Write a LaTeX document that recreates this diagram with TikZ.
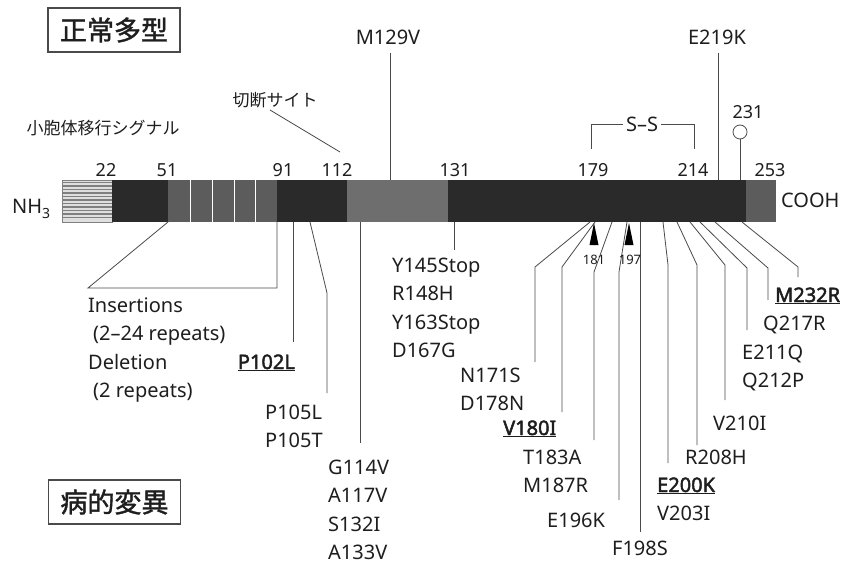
\documentclass[tikz,border=0pt]{standalone}
\usepackage{fontspec}
\setmainfont{Noto Sans}
\newfontfamily\jp{Noto Sans CJK JP}
\newfontfamily\jpb{Noto Sans CJK JP}[FakeBold=1.5]
\newfontfamily\bfam{Noto Sans}[FakeBold=2.2]
\definecolor{dk}{HTML}{2A2A2A}
\definecolor{md}{HTML}{5C5C5C}
\definecolor{lgr}{HTML}{6E6E6E}
\definecolor{ln}{HTML}{4A4A4A}
\definecolor{tx}{HTML}{1E1E1E}
\tikzset{
  conn/.style={draw=ln, line width=0.8pt},
  lab/.style={font=\fontsize{20}{24}\selectfont, inner sep=0pt, anchor=base west, text=tx},
  labb/.style={lab, font=\bfam\fontsize{20}{24}\selectfont},
  posn/.style={font=\fontsize{18}{22}\selectfont, inner sep=0pt, anchor=base, text=tx},
  small/.style={font=\fontsize{13}{15}\selectfont, inner sep=0pt, anchor=center, text=tx},
  jbox/.style={draw=ln, line width=1.5pt, font=\jpb\fontsize{27}{30}\selectfont, minimum width=132pt, minimum height=44pt, inner sep=0pt, text=tx},
  jtxt/.style={font=\jp\fontsize{17}{20}\selectfont, inner sep=0pt, text=tx},
  tri/.style={fill=black},
}
\newcommand{\ul}[1]{\underline{#1}}
\begin{document}
\begin{tikzpicture}[x=1pt,y=-1pt]
\useasboundingbox (0,0) rectangle (845,564);
\fill[white] (0,0) rectangle (845,564);
% ---- bar ----
\fill[gray!25] (62,180) rectangle (112,222);
\foreach \y in {182.5,186,...,220} \draw[gray, line width=1.1pt] (62,\y) -- (112,\y);
\draw[gray, line width=0.8pt] (62,180) rectangle (112,222);
\fill[dk] (112,180) rectangle (168,222);
\fill[md] (168,180) rectangle (277,222);
\foreach \x in {190,212,234,255} \draw[white, line width=1pt] (\x,180) -- (\x,222);
\fill[dk] (277,180) rectangle (347,222);
\fill[lgr] (347,180) rectangle (448,222);
\fill[dk] (448,180) rectangle (746,222);
\fill[md] (746,180) rectangle (776,222);
% ---- boxes and titles ----
\node[jbox] (normal) at (114,30) {正常多型};
\node[jbox] (patho) at (114.5,502) {病的変異};
\node[jtxt] (erSig) at (103,128) {小胞体移行シグナル};
\node[jtxt] (cut) at (275,100) {切断サイト};
\coordinate (cutEnd) at (340,152);
\draw[conn] (270,110) -- (cutEnd);
\node[lab] (nh) at (12,213) {NH\raisebox{-5pt}{\fontsize{14}{16}\selectfont 3}};
\node[lab] (cooh) at (781,207) {COOH};
% ---- position numbers ----
\node[posn] (p22) at (106,176) {22};
\node[posn] (p51) at (167,176) {51};
\node[posn] (p91) at (283,176) {91};
\node[posn] (p112) at (337,176) {112};
\node[posn] (p131) at (455,176) {131};
\node[posn] (p179) at (593,176) {179};
\node[posn] (p214) at (693,176) {214};
\node[posn] (p253) at (770,176) {253};
\node[posn] (p231) at (748,119) {231};
% ---- S-S bracket ----
\node[font=\fontsize{20}{24}\selectfont, inner sep=3pt, text=tx] (ss) at (642,124) {S–S};
\coordinate (ssL) at (591,149);
\coordinate (ssR) at (694,149);
\draw[conn] (ssL) |- (ss.west);
\draw[conn] (ssR) |- (ss.east);
% ---- GPI circle 231 ----
\node[circle, draw=ln, line width=0.8pt, fill=white, minimum size=14pt, inner sep=0pt] (gpi) at (740,132) {};
\coordinate (gpiB) at (740,180);
\draw[conn] (gpi.south) -- (gpiB);
% ---- polymorphisms ----
\node[font=\fontsize{20}{24}\selectfont, inner sep=0pt, anchor=base, text=tx] (m129v) at (388,45) {M129V};
\node[font=\fontsize{20}{24}\selectfont, inner sep=0pt, anchor=base, text=tx] (e219k) at (717,45) {E219K};
\coordinate (bM129) at (390,180);
\coordinate (bE219) at (718,180);
\draw[conn] (bM129) -- (390,53);
\draw[conn] (bE219) -- (718,53);
% ---- insertion / deletion ----
\coordinate (b51) at (168,222);
\coordinate (b91) at (277,222);
\draw[conn] (b51) -- (88,288) -- (277,288) -- (b91);
\node[lab] (ins) at (88,312) {Insertions};
\node[lab] (ins2) at (93,340) {(2–24 repeats)};
\node[lab] (del) at (88,369) {Deletion};
\node[lab] (del2) at (93,397) {(2 repeats)};
% ---- mutations ----
\node[labb, anchor=base east] (p102l) at (295,369) {\ul{P102L}};
\draw[conn] (293,222) -- (293,342);
\node[lab] (p105l) at (265,419) {P105L};
\node[lab] (p105t) at (265,447) {P105T};
\draw[conn] (310,222) -- (327,293) -- (327,393);
\node[lab] (g114v) at (328,474) {G114V};
\node[lab] (a117v) at (328,502) {A117V};
\node[lab] (s132i) at (328,531) {S132I};
\node[lab] (a133v) at (328,559) {A133V};
\draw[conn] (360,222) -- (360,443);
\node[lab] (y145) at (392,272) {Y145Stop};
\node[lab] (r148h) at (392,300) {R148H};
\node[lab] (y163) at (392,329) {Y163Stop};
\node[lab] (d167g) at (392,357) {D167G};
\draw[conn] (454,222) -- (454,250);
\node[lab] (n171s) at (460,382) {N171S};
\node[lab] (d178n) at (460,410) {D178N};
\draw[conn] (590,222) -- (535,267) -- (535,362);
\node[labb] (v180i) at (503,435) {\ul{V180I}};
\draw[conn] (595,222) -- (562,267) -- (562,412);
\node[lab] (t183a) at (523,464) {T183A};
\node[lab] (m187r) at (523,492) {M187R};
\draw[conn] (612,222) -- (594,272) -- (594,440);
\node[lab] (e196k) at (547,527) {E196K};
\draw[conn] (627,222) -- (619,272) -- (619,500);
\node[lab, anchor=base] (f198s) at (640,555) {F198S};
\draw[conn] (640,222) -- (640,532);
\node[labb] (e200k) at (657,492) {\ul{E200K}};
\node[lab] (v203i) at (657,520) {V203I};
\draw[conn] (663,222) -- (668,265) -- (668,463);
\node[lab] (r208h) at (685,464) {R208H};
\draw[conn] (677,222) -- (697,265) -- (697,445);
\node[lab] (v210i) at (713,430) {V210I};
\draw[conn] (690,222) -- (725,265) -- (725,400);
\node[lab] (e211q) at (742,359) {E211Q};
\node[lab] (q212p) at (742,387) {Q212P};
\draw[conn] (700,222) -- (747,268) -- (747,330);
\node[lab] (q217r) at (763,330) {Q217R};
\draw[conn] (715,222) -- (768,268) -- (768,300);
\node[labb] (m232r) at (775,302) {\ul{M232R}};
\draw[conn] (742,222) -- (798,267) -- (798,277);
% ---- glycosylation triangles ----
\fill[tri] (594,223) -- (598.5,245) -- (589.5,245) -- cycle;
\fill[tri] (629,223) -- (633.5,245) -- (624.5,245) -- cycle;
\node[small] (g181) at (594,260) {181};
\node[small] (g197) at (630,260) {197};
\end{tikzpicture}
\end{document}
